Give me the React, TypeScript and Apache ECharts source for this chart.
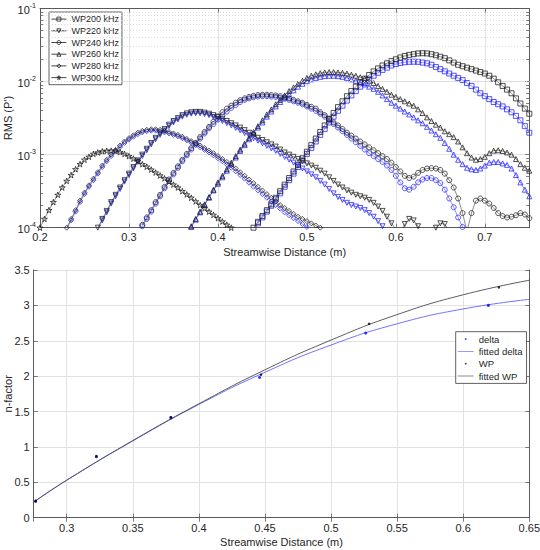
import React, { useEffect, useRef } from "react";
import * as echarts from "echarts";

const STEP = 0.005;
const FONT = "'Liberation Sans', Arial, Helvetica, sans-serif";
const TXT = "#262626";
const AXIS = "#5a5a5a";
const GRID = "#e2e2e2";

// ---------- Top panel: log10 RMS(P') read at every 0.005 m ----------
const wp200Start = 0.44;
const wp200Log = [-4.00,-3.92,-3.84,-3.76,-3.68,-3.59,-3.50,-3.41,-3.32,-3.23,-3.14,-3.05,-2.96,-2.87,-2.78,-2.69,-2.60,-2.51,-2.43,-2.35,-2.27,-2.20,-2.13,-2.07,-2.01,-1.96,-1.91,-1.86,-1.82,-1.78,-1.75,-1.72,-1.695,-1.67,-1.65,-1.635,-1.625,-1.615,-1.612,-1.615,-1.625,-1.64,-1.66,-1.68,-1.71,-1.74,-1.77,-1.79,-1.81,-1.83,-1.85,-1.87,-1.89,-1.92,-1.96,-2.01,-2.06,-2.11,-2.16,-2.23,-2.30,-2.37,-2.44];
const wp200BlueLog = [-4.02,-3.94,-3.86,-3.78,-3.70,-3.61,-3.53,-3.44,-3.35,-3.26,-3.17,-3.08,-2.99,-2.91,-2.82,-2.73,-2.65,-2.56,-2.48,-2.40,-2.33,-2.26,-2.19,-2.13,-2.07,-2.02,-1.97,-1.92,-1.88,-1.84,-1.81,-1.78,-1.76,-1.745,-1.735,-1.73,-1.728,-1.73,-1.74,-1.75,-1.77,-1.80,-1.83,-1.86,-1.89,-1.92,-1.95,-1.98,-2.02,-2.06,-2.11,-2.16,-2.20,-2.24,-2.28,-2.31,-2.34,-2.38,-2.42,-2.47,-2.53,-2.61,-2.70];

const wp220Start = 0.265;
const wp220Log = [-4.00,-3.88,-3.77,-3.65,-3.55,-3.45,-3.35,-3.26,-3.17,-3.08,-3.00,-2.92,-2.84,-2.77,-2.71,-2.65,-2.59,-2.54,-2.50,-2.46,-2.435,-2.42,-2.415,-2.415,-2.425,-2.44,-2.46,-2.48,-2.51,-2.54,-2.57,-2.60,-2.63,-2.665,-2.70,-2.735,-2.77,-2.80,-2.83,-2.86,-2.89,-2.93,-2.97,-3.00,-3.03,-3.06,-3.09,-3.12,-3.15,-3.18,-3.22,-3.26,-3.31,-3.36,-3.41,-3.45,-3.49,-3.52,-3.55,-3.57,-3.59,-3.62,-3.66,-3.71,-3.77,-3.85,-3.94,-4.02,-4.10,-3.95,-3.88,-3.90,-3.98,-4.10,-4.20,-4.15,-4.00,-3.94,-3.95,-4.05,-4.20];
const wp220BlueLog = [-4.02,-3.90,-3.79,-3.67,-3.57,-3.47,-3.37,-3.28,-3.19,-3.10,-3.02,-2.94,-2.86,-2.79,-2.73,-2.67,-2.61,-2.56,-2.52,-2.48,-2.455,-2.44,-2.435,-2.435,-2.445,-2.46,-2.485,-2.51,-2.54,-2.57,-2.60,-2.635,-2.67,-2.705,-2.74,-2.775,-2.81,-2.845,-2.88,-2.915,-2.95,-2.99,-3.03,-3.07,-3.11,-3.15,-3.19,-3.23,-3.27,-3.31,-3.36,-3.41,-3.47,-3.53,-3.58,-3.62,-3.66,-3.69,-3.71,-3.73,-3.76,-3.80,-3.85,-3.91,-3.98,-4.08];

const wp240Start = 0.315;
const wp240Log = [-3.96,-3.86,-3.76,-3.65,-3.55,-3.44,-3.34,-3.25,-3.16,-3.07,-2.99,-2.91,-2.84,-2.76,-2.69,-2.62,-2.55,-2.48,-2.42,-2.37,-2.33,-2.29,-2.255,-2.23,-2.21,-2.195,-2.185,-2.18,-2.18,-2.185,-2.19,-2.20,-2.215,-2.23,-2.25,-2.27,-2.29,-2.32,-2.345,-2.37,-2.42,-2.46,-2.51,-2.56,-2.60,-2.65,-2.70,-2.74,-2.78,-2.82,-2.86,-2.90,-2.94,-2.98,-3.02,-3.06,-3.11,-3.17,-3.23,-3.29,-3.32,-3.30,-3.25,-3.21,-3.19,-3.185,-3.19,-3.21,-3.26,-3.35,-3.45,-3.60,-3.80,-4.05,-3.80,-3.63,-3.60,-3.63,-3.67,-3.73,-3.80,-3.84,-3.86,-3.85,-3.83,-3.80,-3.82,-3.87];
const wp240BlueLog = [-3.98,-3.88,-3.78,-3.67,-3.57,-3.46,-3.36,-3.27,-3.18,-3.09,-3.01,-2.93,-2.86,-2.78,-2.71,-2.64,-2.58,-2.52,-2.46,-2.41,-2.36,-2.32,-2.28,-2.25,-2.23,-2.215,-2.205,-2.20,-2.20,-2.205,-2.21,-2.22,-2.235,-2.25,-2.27,-2.29,-2.31,-2.34,-2.37,-2.40,-2.44,-2.48,-2.53,-2.58,-2.63,-2.68,-2.73,-2.78,-2.83,-2.88,-2.93,-2.98,-3.02,-3.06,-3.10,-3.15,-3.21,-3.29,-3.38,-3.46,-3.48,-3.44,-3.38,-3.34,-3.32,-3.32,-3.35,-3.39,-3.48,-3.60,-3.72,-3.86,-3.99,-4.20];

const wp260Start = 0.37;
const wp260Log = [-3.98,-3.88,-3.78,-3.68,-3.58,-3.48,-3.38,-3.29,-3.20,-3.11,-3.02,-2.93,-2.85,-2.77,-2.69,-2.61,-2.53,-2.45,-2.38,-2.31,-2.25,-2.19,-2.13,-2.08,-2.03,-1.99,-1.95,-1.92,-1.90,-1.885,-1.875,-1.87,-1.87,-1.875,-1.88,-1.89,-1.905,-1.92,-1.94,-1.96,-1.99,-2.02,-2.06,-2.10,-2.14,-2.18,-2.21,-2.24,-2.27,-2.30,-2.33,-2.38,-2.43,-2.49,-2.54,-2.59,-2.63,-2.68,-2.72,-2.76,-2.82,-2.90,-2.98,-3.04,-3.07,-3.06,-3.03,-2.98,-2.945,-2.94,-2.95,-2.97,-3.00,-3.06,-3.13,-3.18,-3.22];
const wp260BlueLog = [-3.99,-3.89,-3.79,-3.69,-3.59,-3.49,-3.40,-3.31,-3.22,-3.13,-3.04,-2.95,-2.87,-2.79,-2.71,-2.63,-2.56,-2.48,-2.41,-2.34,-2.28,-2.22,-2.17,-2.12,-2.07,-2.03,-1.995,-1.97,-1.95,-1.935,-1.925,-1.92,-1.92,-1.925,-1.935,-1.95,-1.97,-1.99,-2.01,-2.04,-2.07,-2.10,-2.14,-2.19,-2.24,-2.29,-2.33,-2.37,-2.41,-2.45,-2.49,-2.53,-2.57,-2.62,-2.67,-2.72,-2.77,-2.84,-2.92,-3.00,-3.07,-3.13,-3.18,-3.20,-3.21,-3.19,-3.15,-3.11,-3.10,-3.10,-3.12,-3.14,-3.19,-3.28,-3.38,-3.48,-3.57];

const wp280Start = 0.23;
const wp280Log = [-4.00,-3.88,-3.76,-3.63,-3.52,-3.42,-3.33,-3.24,-3.15,-3.07,-3.00,-2.935,-2.875,-2.82,-2.775,-2.735,-2.70,-2.675,-2.66,-2.652,-2.652,-2.66,-2.675,-2.69,-2.71,-2.73,-2.755,-2.785,-2.815,-2.845,-2.875,-2.91,-2.945,-2.98,-3.02,-3.06,-3.10,-3.145,-3.19,-3.24,-3.29,-3.34,-3.39,-3.44,-3.49,-3.54,-3.59,-3.64,-3.69,-3.73,-3.77,-3.81,-3.85,-3.88,-3.91,-3.94,-3.97,-4.00,-4.05];
const wp280BlueLog = [-4.02,-3.90,-3.78,-3.65,-3.54,-3.44,-3.35,-3.26,-3.17,-3.09,-3.02,-2.955,-2.895,-2.84,-2.795,-2.755,-2.72,-2.695,-2.68,-2.672,-2.672,-2.68,-2.695,-2.71,-2.73,-2.75,-2.775,-2.805,-2.835,-2.865,-2.90,-2.935,-2.97,-3.01,-3.05,-3.09,-3.135,-3.18,-3.23,-3.28,-3.33,-3.385,-3.44,-3.49,-3.54,-3.59,-3.64,-3.69,-3.74,-3.79,-3.83,-3.87,-3.91,-3.95,-3.99,-4.03];

const wp300Start = 0.2;
const wp300Log = [-4.00,-3.88,-3.76,-3.65,-3.55,-3.45,-3.36,-3.28,-3.20,-3.13,-3.07,-3.03,-2.99,-2.97,-2.955,-2.948,-2.946,-2.95,-2.965,-2.99,-3.02,-3.055,-3.09,-3.13,-3.165,-3.205,-3.245,-3.285,-3.325,-3.37,-3.41,-3.45,-3.50,-3.545,-3.59,-3.64,-3.69,-3.735,-3.78,-3.825,-3.87,-3.915,-3.96,-4.00,-4.05];

const topLegend = ["WP200 kHz", "WP220 kHz", "WP240 kHz", "WP260 kHz", "WP280 kHz", "WP300 kHz"];
const rmsMinorTicks = [2e-4,3e-4,4e-4,5e-4,6e-4,7e-4,8e-4,9e-4,2e-3,3e-3,4e-3,5e-3,6e-3,7e-3,8e-3,9e-3,2e-2,3e-2,4e-2,5e-2,6e-2,7e-2,8e-2,9e-2];

// ---------- Bottom panel: n-factor ----------
const deltaDistance = [0.2765, 0.3224, 0.3788, 0.4459, 0.5262, 0.619];
const deltaN = [0.23, 0.86, 1.41, 1.98, 2.61, 3.0];
const wpDistance = [0.2765, 0.3224, 0.3788, 0.447, 0.5288, 0.627];
const wpN = [0.24, 0.87, 1.42, 2.02, 2.74, 3.255];
const fitDistance = [0.275, 0.3, 0.35, 0.4, 0.45, 0.5, 0.55, 0.6, 0.65];
const fitDeltaN = [0.22, 0.53, 1.085, 1.6, 2.055, 2.44, 2.74, 2.95, 3.085];
const fitWpN = [0.22, 0.53, 1.09, 1.61, 2.09, 2.51, 2.87, 3.15, 3.355];
const bottomLegend = ["delta", "fitted delta", "WP", "fitted WP"];

const STAR = "path://M50,0 L61,35 L98,35 L68,57 L79,91 L50,70 L21,91 L32,57 L2,35 L39,35 Z";
// legend icons (bounding box 20x10 so they scale predictably)
const LINE_ICON = "path://M0,0 L0,0 M0,4.6 L20,4.6 L20,5.4 L0,5.4 Z M20,10 L20,10";
const DOT_ICON = "path://M0,0 L0,0 M9,4 L11,4 L11,6 L9,6 Z M20,10 L20,10";

function toPoints(start: number, logs: number[]) {
  return logs.map((l, i) => [Math.round((start + i * STEP) * 1000) / 1000, Math.pow(10, l)]);
}
function pairs(xs: number[], ys: number[]) {
  return xs.map((x, i) => [x, ys[i]]);
}

function curve(name: string, start: number, logs: number[], color: string, symbol: string, rotate: number, z: number) {
  return {
    type: "line",
    name,
    xAxisIndex: 0,
    yAxisIndex: 0,
    data: toPoints(start, logs),
    symbol,
    symbolSize: symbol === STAR ? 6 : 5,
    symbolRotate: rotate,
    symbolKeepAspect: true,
    lineStyle: { color, width: 0.5 },
    itemStyle: { color: "rgba(255,255,255,0)", borderColor: color, borderWidth: 0.75 },
    emphasis: { disabled: true },
    z,
  };
}

export default function App() {
  const ref = useRef<HTMLDivElement>(null);
  useEffect(() => {
    document.body.style.margin = "0";
    if (!ref.current) return;
    const chart = echarts.init(ref.current, undefined, { renderer: "svg" });
    const BLUE = "#1f1fff";
    const BLACK = "#1a1a1a";

    const minorLines: any[] = rmsMinorTicks.map((v) => ({ yAxis: v }));
    const minorTicksMarks: any[] = [];
    rmsMinorTicks.forEach((v) => {
      minorTicksMarks.push([{ coord: [0.2, v] }, { coord: [0.2035, v] }]);
      minorTicksMarks.push([{ coord: [0.7465, v] }, { coord: [0.75, v] }]);
    });

    const helper = {
      type: "line",
      xAxisIndex: 0,
      yAxisIndex: 0,
      data: [],
      silent: true,
      z: 1,
      markLine: {
        silent: true,
        symbol: ["none", "none"],
        label: { show: false },
        animation: false,
        data: [
          ...minorLines.map((d) => ({ ...d, lineStyle: { color: "#d4d4d4", type: [1, 2], width: 0.8 } })),
          ...minorTicksMarks.map((d) => [{ ...d[0], lineStyle: { color: AXIS, type: "solid", width: 0.8 } }, d[1]]),
        ],
      },
    };

    const series: any[] = [
      helper,
      curve("b200", wp200Start, wp200BlueLog, BLUE, "rect", 0, 2),
      curve("b220", wp220Start, wp220BlueLog, BLUE, "triangle", 180, 2),
      curve("b240", wp240Start, wp240BlueLog, BLUE, "circle", 0, 2),
      curve("b260", wp260Start, wp260BlueLog, BLUE, "triangle", 0, 2),
      curve("b280", wp280Start, wp280BlueLog, BLUE, "diamond", 0, 2),
      curve(topLegend[0], wp200Start, wp200Log, BLACK, "rect", 0, 3),
      curve(topLegend[1], wp220Start, wp220Log, BLACK, "triangle", 180, 3),
      curve(topLegend[2], wp240Start, wp240Log, BLACK, "circle", 0, 3),
      curve(topLegend[3], wp260Start, wp260Log, BLACK, "triangle", 0, 3),
      curve(topLegend[4], wp280Start, wp280Log, BLACK, "diamond", 0, 3),
      curve(topLegend[5], wp300Start, wp300Log, BLACK, STAR, 0, 3),
      {
        type: "scatter", name: bottomLegend[0], xAxisIndex: 2, yAxisIndex: 2,
        data: pairs(deltaDistance, deltaN), symbol: "circle", symbolSize: 3,
        itemStyle: { color: "#0000ff" }, z: 4,
      },
      {
        type: "line", name: bottomLegend[1], xAxisIndex: 2, yAxisIndex: 2,
        data: pairs(fitDistance, fitDeltaN), smooth: true, symbol: "none",
        lineStyle: { color: "#6262ff", width: 0.9 }, itemStyle: { color: "#6262ff" }, z: 3,
      },
      {
        type: "scatter", name: bottomLegend[2], xAxisIndex: 2, yAxisIndex: 2,
        data: pairs(wpDistance, wpN), symbol: "circle", symbolSize: 2.6,
        itemStyle: { color: "#000" }, z: 4,
      },
      {
        type: "line", name: bottomLegend[3], xAxisIndex: 2, yAxisIndex: 2,
        data: pairs(fitDistance, fitWpN), smooth: true, symbol: "none",
        lineStyle: { color: "#4a4a4a", width: 0.9 }, itemStyle: { color: "#4a4a4a" }, z: 3,
      },
    ];

    const axisLine = { show: true, lineStyle: { color: AXIS, width: 1 } };
    const tick = { show: true, inside: true, length: 4, lineStyle: { color: AXIS, width: 0.8 } };
    const label = { color: TXT, fontSize: 11, fontFamily: FONT };
    const nameStyle = { color: TXT, fontSize: 11, fontFamily: FONT };
    const split = { show: true, lineStyle: { color: GRID, width: 1 } };

    const option: any = {
      animation: false,
      backgroundColor: "#ffffff",
      textStyle: { fontFamily: FONT },
      grid: [
        { left: 40, top: 8.5, width: 489.3, height: 219.2, containLabel: false, outerBoundsMode: "none" },
        { left: 33.7, top: 270, width: 495.6, height: 247.7, containLabel: false, outerBoundsMode: "none" },
      ],
      xAxis: [
        {
          type: "value", gridIndex: 0, position: "bottom", min: 0.2, max: 0.75, interval: 0.1,
          axisLine, axisTick: tick, splitLine: split,
          axisLabel: { ...label, margin: 4, showMaxLabel: false, formatter: (v: number) => String(Math.round(v * 100) / 100) },
          name: "Streamwise Distance (m)", nameLocation: "middle", nameGap: 19, nameTextStyle: nameStyle,
        },
        {
          type: "value", gridIndex: 0, position: "top", min: 0.2, max: 0.75, interval: 0.1,
          axisLine, axisTick: tick, axisLabel: { show: false }, splitLine: { show: false },
        },
        {
          type: "value", gridIndex: 1, position: "bottom", min: 0.275, max: 0.65,
          minInterval: 0.05, maxInterval: 0.05, splitNumber: 7,
          axisLine, axisTick: tick, splitLine: split,
          axisLabel: { ...label, margin: 5, showMinLabel: false, formatter: (v: number) => String(Math.round(v * 1000) / 1000) },
          name: "Streamwise Distance (m)", nameLocation: "middle", nameGap: 19, nameTextStyle: nameStyle,
        },
        {
          type: "value", gridIndex: 1, position: "top", min: 0.275, max: 0.65,
          minInterval: 0.05, maxInterval: 0.05, splitNumber: 7,
          axisLine, axisTick: tick, axisLabel: { show: false }, splitLine: { show: false },
        },
      ],
      yAxis: [
        {
          type: "log", gridIndex: 0, position: "left", min: 1e-4, max: 1e-1, logBase: 10, interval: 1,
          axisLine, axisTick: tick, splitLine: split,
          axisLabel: {
            margin: 4,
            formatter: (v: number) => `{b|10}{s|${Math.round(Math.log10(v))}}`,
            rich: {
              b: { fontSize: 11, color: TXT, fontFamily: FONT, lineHeight: 14, verticalAlign: "bottom" },
              s: { fontSize: 7, color: TXT, fontFamily: FONT, lineHeight: 14, verticalAlign: "top" },
            },
          },
          name: "RMS (P')", nameLocation: "middle", nameGap: 27, nameMoveOverlap: false, nameTextStyle: nameStyle,
        },
        {
          type: "log", gridIndex: 0, position: "right", min: 1e-4, max: 1e-1, logBase: 10, interval: 1,
          axisLine, axisTick: tick, axisLabel: { show: false }, splitLine: { show: false },
        },
        {
          type: "value", gridIndex: 1, position: "left", min: 0, max: 3.5, interval: 0.5,
          axisLine, axisTick: tick, splitLine: split,
          axisLabel: { ...label, margin: 4 },
          name: "n-factor", nameLocation: "middle", nameGap: 20, nameMoveOverlap: false, nameTextStyle: nameStyle,
        },
        {
          type: "value", gridIndex: 1, position: "right", min: 0, max: 3.5, interval: 0.5,
          axisLine, axisTick: tick, axisLabel: { show: false }, splitLine: { show: false },
        },
      ],
      legend: [
        {
          data: topLegend, left: 49, top: 12, orient: "vertical",
          itemWidth: 15, itemHeight: 5, itemGap: 1.5,
          padding: [2, 3, 2, 2],
          itemStyle: { color: "rgba(255,255,255,0)", borderColor: "#1a1a1a", borderWidth: 0.8 },
          lineStyle: { color: "#1a1a1a", width: 0.8 },
          textStyle: { fontSize: 9, color: TXT, fontFamily: FONT, lineHeight: 10.2 },
          backgroundColor: "#ffffff", borderColor: "#3a3a3a", borderWidth: 0.8,
          selectedMode: false,
        },
        {
          data: [
            { name: bottomLegend[0], icon: DOT_ICON },
            { name: bottomLegend[1], icon: LINE_ICON },
            { name: bottomLegend[2], icon: DOT_ICON },
            { name: bottomLegend[3], icon: LINE_ICON },
          ],
          left: 455.7, top: 331.7, orient: "vertical",
          itemWidth: 16, itemHeight: 8, itemGap: 1.5,
          padding: [2, 4, 2, 2],
          textStyle: { fontSize: 9.5, color: TXT, fontFamily: FONT, lineHeight: 10.8 },
          backgroundColor: "#ffffff", borderColor: "#3a3a3a", borderWidth: 0.8,
          selectedMode: false,
        },
      ],
      series,
    };
    chart.setOption(option);
    return () => chart.dispose();
  }, []);
  return <div ref={ref} style={{ width: 540, height: 550 }} />;
}
